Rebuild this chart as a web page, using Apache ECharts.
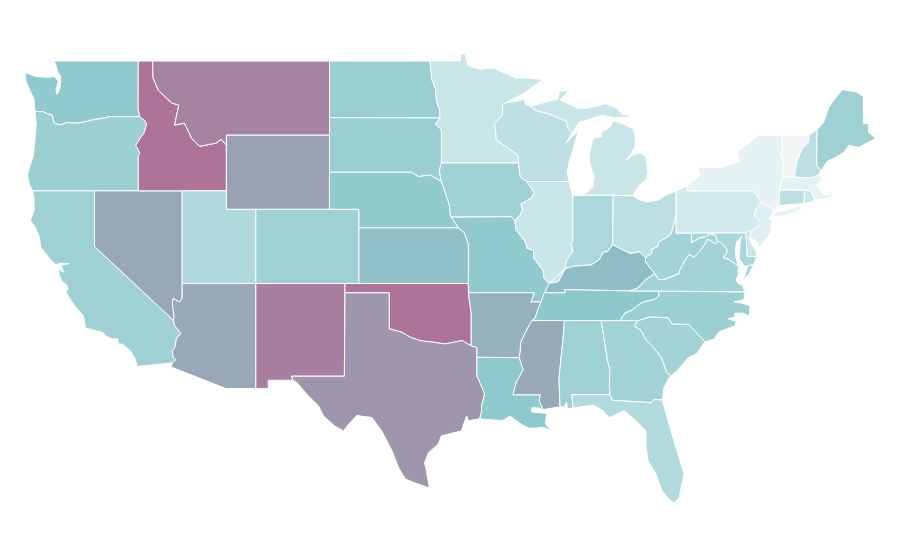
<!DOCTYPE html>
<html>
<head>
<meta charset="utf-8">
<style>html,body{margin:0;background:#fff}#main{width:900px;height:560px}</style>
<script src="https://cdn.jsdelivr.net/npm/echarts@6/dist/echarts.min.js"></script>
</head>
<body>
<div id="main"></div>
<script>
const STATE_NAMES = ['Washington','Oregon','California','Nevada','Idaho','Montana','Wyoming','Utah','Colorado','Arizona','New Mexico',
  'North Dakota','South Dakota','Nebraska','Kansas','Oklahoma','Texas','Minnesota','Iowa','Missouri','Arkansas','Louisiana',
  'Wisconsin','Illinois','Michigan','Indiana','Ohio','Kentucky','Tennessee','Mississippi','Alabama','Georgia','Florida',
  'South Carolina','North Carolina','Virginia','West Virginia','Pennsylvania','New York','Vermont','New Hampshire','Maine',
  'Massachusetts','Rhode Island','Connecticut','New Jersey','Delaware','Maryland']
const STATE_VALUES = [48,42,40,68,98,89,72,32,40,68,91,
  43,43,47,55,98,78,20,40,48,63,49,
  26,20,20,33,26,56,50,67,40,38,31,
  38,42,38,38,16,10,0,26,40,
  10,19,26,12,20,35]
const COLOR_STOPS = ['#f3f4f5','#e4f2f3','#c8e5e8','#b3dbde','#9fd1d4','#8cc8cc','#93b6c1','#9aa4b6','#a093ab','#a781a0','#ae7096']

// shared borders, lon/lat
const OR_WA = [[-124.05,46.27],[-123.5,46.27],[-123.2,46.15],[-122.9,46.1],[-122.8,45.85],[-122.75,45.65],[-122.3,45.55],[-121.9,45.68],[-121.2,45.65],[-120.6,45.73],[-120,45.85],[-119.3,45.93],[-119,46],[-116.92,46]]
const OR_ID = [[-116.92,46],[-116.6,45.8],[-116.46,45.6],[-116.65,45.1],[-116.85,44.9],[-117.2,44.45],[-117.03,44.2],[-116.93,44.05],[-117.03,43.85],[-117.03,42]]
const ID_MT = [[-116.05,49],[-116.03,48.1],[-115.67,47.42],[-114.76,46.74],[-114.28,46.62],[-114.5,45.8],[-114.56,45.54],[-113.9,45.65],[-113.4,44.83],[-112.87,44.4],[-111.75,44.57],[-111.4,44.77],[-111.05,44.46]]
const AZ_CA = [[-114.63,35],[-114.57,34.75],[-114.14,34.3],[-114.43,34.05],[-114.53,33.6],[-114.72,33.35],[-114.65,33],[-114.47,32.9],[-114.72,32.72]]
const NV_AZ = [[-114.05,37],[-114.05,36.2],[-114.23,36],[-114.67,36.2],[-114.72,35.9],[-114.6,35.3],[-114.63,35]]
const RED_RIVER = [[-100,34.56],[-99.14,34.37],[-98.5,34.08],[-97.9,33.92],[-96.98,33.83],[-96.19,33.74],[-95.05,33.92],[-94.43,33.64]]
const TX_LA = [[-94.04,33.02],[-94.04,32],[-93.8,31.6],[-93.52,31.05],[-93.72,30.4],[-93.72,30.1],[-93.85,29.7]]
const MISS_TN = [[-89.7,36],[-89.9,35.6],[-90.1,35.12],[-90.3,35]]
const MISS_MS = [[-90.3,35],[-90.6,34.6],[-91.08,33.8],[-91.1,33.3],[-91.17,33]]
const MISS_LA = [[-91.17,33],[-90.9,32.35],[-91.35,31.7],[-91.6,31]]
const PEARL = [[-89.73,31],[-89.82,30.67],[-89.55,30.2]]
const AL_MS = [[-88.1,35],[-88.2,34],[-88.47,31.9],[-88.4,30.35]]
const AL_GA = [[-85.6,35],[-85.18,32.87],[-85,32.3],[-85.05,31.55],[-85,31]]
const SAVANNAH = [[-83.1,35],[-83.35,34.7],[-82.9,34.47],[-82.55,33.95],[-81.9,33.4],[-81.5,33],[-81.15,32.2],[-80.87,32.03]]
const NC_SC = [[-83.1,35],[-82.3,35.2],[-81.05,35.15],[-80.8,34.82],[-79.68,34.8],[-78.55,33.86]]
const NC_TN = [[-81.68,36.59],[-81.7,36.3],[-82.05,36.12],[-82.6,36.03],[-82.9,35.95],[-83.5,35.57],[-84,35.4],[-84.32,35]]
const KY_VA = [[-83.68,36.6],[-83.13,36.75],[-82.6,37.2],[-81.97,37.54]]
const VA_WV = [[-81.97,37.54],[-81.68,37.2],[-81.2,37.25],[-80.3,37.55],[-80.3,37.7],[-79.95,38.2],[-79.65,38.58],[-79.3,38.42],[-78.87,38.77],[-78.35,39.4],[-77.83,39.13],[-77.72,39.32]]
const POTOMAC = [[-77.72,39.32],[-77.45,39.2],[-77.1,38.9],[-77.05,38.7],[-77.3,38.4],[-76.95,38.3],[-76.3,37.95]]
const MD_WV = [[-79.48,39.72],[-79.48,39.2],[-78.95,39.45],[-78.45,39.55],[-78.2,39.68],[-77.83,39.6],[-77.72,39.32]]
const KY_WV = [[-81.97,37.54],[-82.6,38.17],[-82.6,38.4]]
const OH_WV = [[-82.6,38.4],[-82.2,38.6],[-82.15,38.85],[-81.75,39],[-81.7,39.25],[-81,39.55],[-80.85,39.7],[-80.52,40.64]]
const KY_OH = [[-82.6,38.4],[-83,38.7],[-83.65,38.62],[-84.25,38.85],[-84.82,39.1]]
const KY_IN = [[-84.82,39.1],[-85.2,38.7],[-85.45,38.7],[-85.75,38.27],[-86.3,38],[-86.8,37.97],[-87.5,37.93],[-88.05,37.8]]
const KY_IL = [[-88.05,37.8],[-88.5,37.1],[-89.15,37]]
const IL_IN = [[-87.53,41.72],[-87.53,39.35],[-87.65,39.1],[-87.5,38.75],[-87.95,38.25],[-88.05,37.8]]
const MO_IL = [[-91.45,40.38],[-91.4,39.9],[-90.75,39.25],[-90.65,38.9],[-90.2,38.8],[-90.2,38.4],[-89.55,37.7],[-89.5,37.3],[-89.15,37]]
const IA_IL = [[-90.65,42.5],[-90.15,41.9],[-90.35,41.6],[-91.05,41.3],[-90.95,41],[-91.1,40.7],[-91.45,40.38]]
const IA_WI = [[-91.22,43.5],[-91.1,42.75],[-90.65,42.5]]
const MN_WI = [[-92.08,46.75],[-92.3,46.66],[-92.3,46.1],[-92.85,45.6],[-92.75,45.1],[-92.75,44.75],[-91.9,44.3],[-91.25,43.9],[-91.22,43.5]]
const ND_MN = [[-97.23,49],[-97.1,48],[-96.85,47.5],[-96.8,46.9],[-96.55,46.3],[-96.56,45.93]]
const SD_MN = [[-96.56,45.93],[-96.85,45.6],[-96.45,45.3],[-96.45,43.5]]
const SD_IA = [[-96.45,43.5],[-96.6,43.1],[-96.45,42.5]]
const SD_NE = [[-104.05,43],[-98.5,43],[-98,42.77],[-97.2,42.85],[-96.45,42.5]]
const IA_NE = [[-96.45,42.5],[-96.1,41.7],[-95.9,41.2],[-95.85,40.7],[-95.77,40.58]]
const KS_MO = [[-95.3,40],[-94.9,39.75],[-94.62,39.1],[-94.62,37]]
const NY_PA = [[-79.76,42.27],[-79.76,42],[-75.35,42],[-75.05,41.75],[-74.7,41.36]]
const NJ_PA = [[-74.7,41.36],[-75.1,41],[-75.2,40.7],[-74.75,40.2],[-75.42,39.8]]
const NJ_NY = [[-74.7,41.36],[-73.92,41],[-74,40.7]]
const VT_NH = [[-71.5,45],[-71.55,44.6],[-71.94,44.3],[-72.05,44.1],[-72.3,43.6],[-72.45,43],[-72.46,42.73]]
const NY_VT = [[-73.35,45],[-73.3,44.4],[-73.4,44],[-73.25,43.6],[-73.27,42.75]]
const NH_ME = [[-70.95,45.3],[-70.98,43.4],[-70.7,43.07]]
const MA_NORTH = [[-73.27,42.75],[-72.46,42.73],[-71.3,42.7],[-70.82,42.87]]
const UP_WI = [[-90.4,46.57],[-90.1,46.34],[-89.1,46.14],[-88.8,46.03],[-87.95,45.75],[-87.85,45.35],[-87.6,45.1]]

const r = arc => arc.slice().reverse()
const ring = (...parts) => parts.flat()

const SHAPES = {
  Washington: [ring([[-117.03,49],[-122.76,49],[-122.6,48.75],[-122.5,48.4],[-122.3,48.2],[-122.3,47.9],[-122.35,47.5],[-122.55,47.2],[-122.62,47.45],[-122.45,47.9],[-122.72,48.15],[-123.2,48.12],[-124,48.17],[-124.72,48.38],[-124.65,47.9],[-124.35,47.35],[-124.1,46.95]], OR_WA, [[-117.04,46.42]])],
  Oregon: [ring([[-124.05,46.27],[-123.95,45.6],[-124.05,44.7],[-124.15,43.9],[-124.4,43.3],[-124.55,42.84],[-124.4,42.3],[-124.2,42]], r(OR_ID), r(OR_WA))],
  California: [ring([[-124.2,42],[-124.1,41.5],[-124.1,41],[-124.35,40.4],[-124,40],[-123.75,39.5],[-123.65,38.95],[-123,38.3],[-122.6,38],[-122.45,38.08],[-121.7,38.08],[-122.25,38],[-122.1,37.6],[-122.42,37.8],[-122.42,37.5],[-122.2,37.1],[-121.9,36.95],[-121.8,36.7],[-121.95,36.55],[-121.6,36.1],[-121.2,35.65],[-120.75,35.25],[-120.6,34.6],[-119.4,34.35],[-119.2,34.15],[-118.8,34.02],[-118.4,34],[-118.4,33.75],[-118.1,33.72],[-117.6,33.4],[-117.27,33],[-117.1,32.53]], r(AZ_CA), [[-120,39],[-120,42]])],
  Nevada: [ring([[-120,42],[-114.05,42]], NV_AZ, [[-120,39]])],
  Idaho: [ring([[-117.03,49]], ID_MT, [[-111.05,42]], r(OR_ID), [[-117.04,46.42]])],
  Montana: [ring(ID_MT, [[-111.05,45],[-104.05,45],[-104.05,49]])],
  Wyoming: [[[-111.05,45],[-104.05,45],[-104.05,41],[-111.05,41]]],
  Utah: [[[-114.05,42],[-111.05,42],[-111.05,41],[-109.05,41],[-109.05,37],[-114.05,37]]],
  Colorado: [[[-109.05,41],[-102.05,41],[-102.05,37],[-109.05,37]]],
  Arizona: [ring([[-114.05,37],[-109.05,37],[-109.05,31.33],[-111.07,31.33],[-114.81,32.5]], r(AZ_CA), r(NV_AZ))],
  'New Mexico': [[[-109.05,37],[-103,37],[-103,36.5],[-103.04,32],[-106.62,32],[-106.53,31.78],[-108.21,31.78],[-108.21,31.33],[-109.05,31.33]]],
  'North Dakota': [ring([[-104.05,49]], ND_MN, [[-104.05,45.94]])],
  'South Dakota': [ring([[-104.05,45.94]], SD_MN, SD_IA, r(SD_NE))],
  Nebraska: [ring(SD_NE, IA_NE, [[-95.3,40],[-102.05,40],[-102.05,41],[-104.05,41]])],
  Kansas: [ring([[-102.05,40]], KS_MO, [[-102.05,37]])],
  Oklahoma: [ring([[-103,37],[-94.62,37],[-94.62,36.5],[-94.43,35.4]], r(RED_RIVER), [[-100,36.5],[-103,36.5]])],
  Texas: [ring([[-103,36.5],[-100,36.5]], RED_RIVER, [[-94.04,33.55]], TX_LA, [[-94.6,29.6],[-94.75,29.85],[-95.1,29.05],[-96.46,28.78],[-96.66,28.35],[-97.34,27.86],[-97.6,27.32],[-97.47,26.9],[-97.27,25.97],[-98.1,26.2],[-98.9,26.45],[-99.36,27.07],[-99.8,27.97],[-100.5,29.05],[-101.17,29.77],[-102.2,29.88],[-102.76,29.4],[-103.1,29.05],[-103.67,29.3],[-104.46,29.86],[-104.8,30.4],[-105.5,30.95],[-106.28,31.67],[-106.53,31.78],[-106.62,32],[-103.04,32]])],
  Minnesota: [ring([[-97.23,49],[-95.15,49],[-95.15,49.38],[-94.82,49.35],[-94.65,48.75],[-93.8,48.55],[-93.4,48.6],[-92.9,48.6],[-92,48.3],[-91.4,48.07],[-90.75,48.1],[-89.6,48],[-90.75,47.3]], MN_WI, [[-96.45,43.5]], r(SD_MN), r(ND_MN))],
  Iowa: [ring([[-96.45,43.5]], IA_WI, IA_IL, [[-91.72,40.6]], r(IA_NE), [[-96.6,43.1]])],
  Missouri: [ring([[-95.77,40.58],[-91.72,40.6]], MO_IL, [[-89.45,36.5],[-89.7,36],[-90.37,36],[-90.15,36.5],[-94.62,36.5]], r(KS_MO))],
  Arkansas: [ring([[-94.62,36.5],[-90.15,36.5],[-90.37,36]], MISS_TN, MISS_MS, [[-94.04,33.02],[-94.04,33.55],[-94.43,33.64],[-94.43,35.4]])],
  Louisiana: [ring(TX_LA, [[-92.33,29.6],[-91.8,29.85],[-91,29.4],[-90.5,29.2],[-90,29.2],[-89.6,29.25],[-89.05,29.1],[-89.4,29.45],[-89.3,30],[-89.8,30.03],[-90.35,30.08],[-90.3,30.3],[-89.8,30.28],[-89.55,30.2]], r(PEARL), r(MISS_LA))],
  Mississippi: [ring(r(MISS_MS), AL_MS, [[-89.55,30.2]], r(PEARL), r(MISS_LA))],
  Wisconsin: [ring([[-92.08,46.75],[-91.2,46.85],[-90.8,46.95],[-90.75,46.65]], UP_WI, [[-88,44.56],[-87.15,45.25],[-87.53,44.2],[-87.8,43.5],[-87.9,43],[-87.8,42.5],[-90.65,42.5]], r(IA_WI), r(MN_WI))],
  Illinois: [ring([[-90.65,42.5],[-87.8,42.5]], IL_IN, r(KY_IL), r(MO_IL), r(IA_IL))],
  Michigan: [
    ring([[-86.82,41.76],[-86.17,42.2],[-86.07,42.75],[-86.4,43.5],[-86.4,44],[-86.17,44.82],[-85.6,44.9],[-85.55,45.2],[-85.05,45.4],[-84.75,45.78],[-84.2,45.63],[-83.45,45.35],[-83.3,45],[-83.3,44.4],[-83.6,44],[-83.9,43.65],[-83.4,43.95],[-82.95,44.05],[-82.6,43.85],[-82.42,43],[-82.55,42.6],[-83.1,42.25],[-83.45,41.73],[-84.8,41.76]]),
    ring(UP_WI, [[-87.05,45.75],[-86.8,45.75],[-86.3,45.9],[-85.5,46.08],[-84.75,45.95],[-83.95,45.97],[-83.6,46.1],[-84.15,46.1],[-84.5,46.45],[-85.3,46.7],[-86.6,46.45],[-87.2,46.45],[-88.4,46.9],[-87.78,47.43],[-88.45,47.34],[-88.55,46.95],[-90.15,46.62]])
  ],
  Indiana: [ring([[-87.53,41.72],[-87.2,41.75],[-86.82,41.76],[-84.8,41.76]], KY_IN, r(IL_IN))],
  Ohio: [ring([[-84.8,41.76],[-83.45,41.73],[-83.1,41.55],[-82.5,41.4],[-81.7,41.5],[-81.25,41.76],[-80.52,41.98]], r(OH_WV), KY_OH)],
  Kentucky: [ring([[-84.82,39.1]], r(KY_OH), r(KY_WV), r(KY_VA), [[-88.07,36.67],[-88.07,36.5],[-89.45,36.5],[-89.15,37]], r(KY_IL), r(KY_IN))],
  Tennessee: [ring([[-89.45,36.5],[-88.07,36.5],[-88.07,36.67],[-83.68,36.6]], NC_TN, [[-90.3,35]], r(MISS_TN))],
  Alabama: [ring(AL_GA, [[-87.6,31],[-87.5,30.28],[-87.9,30.25],[-87.95,30.6],[-88.1,30.35]], r(AL_MS))],
  Georgia: [ring(AL_GA.slice(0,1), SAVANNAH, [[-81,31.9],[-81.34,31.4],[-81.45,30.72],[-82.05,30.75],[-82.2,30.57],[-84.86,30.7]], r(AL_GA))],
  Florida: [[[-85,31],[-84.86,30.7],[-82.2,30.57],[-82.05,30.75],[-81.45,30.72],[-81.07,29.6],[-80.53,28.14],[-79.98,26.73],[-80.32,25.43],[-80.66,25.16],[-81.07,25.43],[-81.54,25.92],[-81.88,26.73],[-82.42,27.43],[-82.56,28.14],[-82.56,29.05],[-83.24,29.6],[-84.05,30.14],[-85.07,29.76],[-85.47,30.14],[-86.15,30.45],[-87.5,30.28],[-87.6,31]]],
  'South Carolina': [ring(NC_SC, [[-79.15,33.2],[-79.7,33],[-80.45,32.3]], r(SAVANNAH))],
  'North Carolina': [ring([[-75.87,36.55]], NC_TN, [[-83.1,35]], NC_SC, [[-77.95,34],[-77.6,34.4],[-76.5,34.72],[-76.45,34.95],[-77,35.1],[-76.5,35.2],[-76.55,35.4],[-76,35.4],[-75.55,35.25],[-75.5,35.8],[-76.1,35.95],[-76.6,36],[-75.9,36.15]])],
  Virginia: [
    ring([[-75.87,36.55],[-81.68,36.59]], KY_VA, VA_WV, POTOMAC, [[-76.3,37.5],[-76.45,37.15],[-76.3,37],[-76,36.9]]),
    [[-75.25,38.03],[-75.65,37.95],[-75.95,37.15],[-75.6,37.5]]
  ],
  'West Virginia': [ring([[-80.52,40.64],[-80.52,39.72]], MD_WV, r(VA_WV), KY_WV, OH_WV)],
  Maryland: [ring([[-79.48,39.72],[-75.79,39.72],[-75.69,38.46],[-75.05,38.45],[-75.25,38.03],[-75.65,37.95],[-75.9,37.95],[-76.25,38.35],[-76.2,38.85],[-76.15,39.35],[-76.05,39.55],[-76.4,39.25],[-76.5,38.9],[-76.45,38.4]], r(POTOMAC), r(MD_WV))],
  Delaware: [[[-75.79,39.72],[-75.6,39.84],[-75.42,39.8],[-75.55,39.5],[-75.4,39.1],[-75.1,38.8],[-75.05,38.45],[-75.69,38.46]]],
  Pennsylvania: [ring([[-80.52,41.98],[-80.07,42.15]], NY_PA, NJ_PA, [[-75.6,39.84],[-75.79,39.72],[-80.52,39.72]])],
  'New York': [
    ring([[-79.76,42.27],[-79.05,42.7],[-78.9,42.9],[-79.05,43.27],[-77.5,43.27],[-76.5,43.5],[-76.2,43.55],[-76.35,44.1],[-75.8,44.45],[-75,44.95],[-74.7,45]], NY_VT, [[-73.5,42.05],[-73.55,41.3],[-73.48,41.21],[-73.73,41.1],[-73.8,40.8]], r(NJ_NY), r(NY_PA)),
    [[-74,40.6],[-73.75,40.85],[-73.1,40.95],[-72.3,41.15],[-71.87,41.07],[-72.5,40.82],[-73.5,40.59]]
  ],
  Vermont: [ring(NY_VT, r(VT_NH))],
  'New Hampshire': [ring(VT_NH, MA_NORTH.slice(2), r(NH_ME))],
  Maine: [ring(NH_ME.slice(0,1), [[-70.5,45.7],[-70.15,46.5],[-69.8,46.9],[-69.23,47.46],[-69.05,47.42],[-68.3,47.35],[-67.8,47.07],[-67.8,45.65],[-67.45,45.6],[-67.45,45.15],[-66.95,44.82],[-68.12,44.35],[-68.8,44.45],[-69.13,44.08],[-69.8,43.75],[-70.25,43.6]], r(NH_ME))],
  Massachusetts: [ring([[-73.5,42.05]], MA_NORTH, [[-70.6,42.65],[-71,42.3],[-70.65,41.95],[-70.5,41.78],[-70.1,41.77],[-70.25,42.07],[-69.95,41.85],[-70,41.65],[-70.65,41.55],[-71.12,41.5],[-71.2,41.67],[-71.38,42.02],[-71.8,42.02]])],
  'Rhode Island': [[[-71.8,42.02],[-71.38,42.02],[-71.2,41.67],[-71.12,41.5],[-71.5,41.37],[-71.85,41.32]]],
  Connecticut: [[[-73.5,42.05],[-71.8,42.02],[-71.85,41.32],[-72.9,41.25],[-73.48,41.21],[-73.55,41.3]]],
  'New Jersey': [ring(r(NJ_PA), NJ_NY, [[-74.25,40.5],[-74,40.4],[-74.1,39.75],[-74.4,39.4],[-74.9,38.95],[-74.95,39.2],[-75.55,39.5]])]
}

function buildGeoJson() {
  return {
    type: 'FeatureCollection',
    features: STATE_NAMES.map((name) => ({
      type: 'Feature',
      properties: { name },
      geometry: { type: 'MultiPolygon', coordinates: SHAPES[name].map((rng) => [[...rng, rng[0]]]) },
    })),
  }
}

const chart = echarts.init(document.getElementById('main'))
echarts.registerMap('USA', buildGeoJson())
chart.setOption({
  animation: false,
  backgroundColor: '#fff',
  visualMap: {
    show: false,
    min: 0,
    max: 100,
    inRange: { color: COLOR_STOPS },
  },
  series: [
    {
      type: 'map',
      map: 'USA',
      roam: false,
      aspectScale: 0.797,
      left: 25,
      top: 54,
      width: 851,
      height: 449,
      label: { show: false },
      itemStyle: { borderColor: '#fff', borderWidth: 1 },
      data: STATE_NAMES.map((name, i) => ({ name, value: STATE_VALUES[i] })),
    },
  ],
})
</script>
</body>
</html>
